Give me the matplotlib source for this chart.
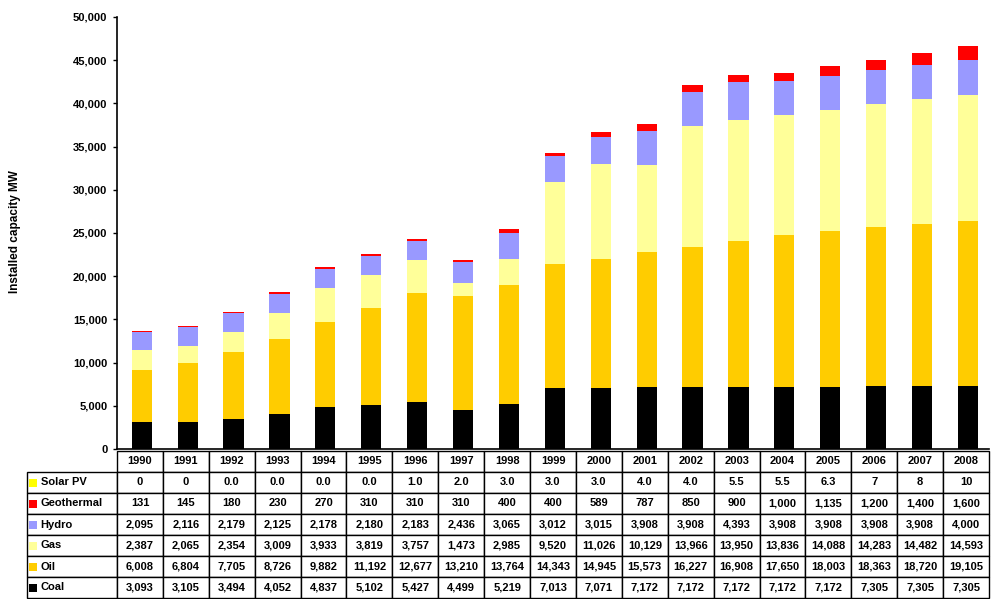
import matplotlib
matplotlib.use('Agg')
from matplotlib import pyplot as plt
from matplotlib.patches import Rectangle
import numpy as np

plt.rcParams['font.family'] = ['Liberation Sans', 'DejaVu Sans']

years = ['1990', '1991', '1992', '1993', '1994', '1995', '1996', '1997', '1998', '1999',
         '2000', '2001', '2002', '2003', '2004', '2005', '2006', '2007', '2008']
coal = [3093, 3105, 3494, 4052, 4837, 5102, 5427, 4499, 5219, 7013,
        7071, 7172, 7172, 7172, 7172, 7172, 7305, 7305, 7305]
oil = [6008, 6804, 7705, 8726, 9882, 11192, 12677, 13210, 13764, 14343,
       14945, 15573, 16227, 16908, 17650, 18003, 18363, 18720, 19105]
gas = [2387, 2065, 2354, 3009, 3933, 3819, 3757, 1473, 2985, 9520,
       11026, 10129, 13966, 13950, 13836, 14088, 14283, 14482, 14593]
hydro = [2095, 2116, 2179, 2125, 2178, 2180, 2183, 2436, 3065, 3012,
         3015, 3908, 3908, 4393, 3908, 3908, 3908, 3908, 4000]
geothermal = [131, 145, 180, 230, 270, 310, 310, 310, 400, 400,
              589, 787, 850, 900, 1000, 1135, 1200, 1400, 1600]
solar = [0, 0, 0.0, 0.0, 0.0, 0.0, 1.0, 2.0, 3.0, 3.0,
         3.0, 4.0, 4.0, 5.5, 5.5, 6.3, 7, 8, 10]
solar_txt = ['0', '0', '0.0', '0.0', '0.0', '0.0', '1.0', '2.0', '3.0', '3.0',
             '3.0', '4.0', '4.0', '5.5', '5.5', '6.3', '7', '8', '10']

series = [('Coal', coal, '#000000'), ('Oil', oil, '#FFCC00'), ('Gas', gas, '#FFFF99'),
          ('Hydro', hydro, '#9999FF'), ('Geothermal', geothermal, '#FF0000'),
          ('Solar PV', solar, '#FFFF00')]

ax_l, ax_w = 117, 872
fig = plt.figure(figsize=(9.92, 5.99), dpi=100)
ax = fig.add_axes([ax_l/992, 1 - 449/599, ax_w/992, 432/599])

x = np.arange(len(years))
bottom = np.zeros(len(years))
for name, vals, col in series:
    ax.bar(x + 0.04, vals, 0.44, bottom=bottom, color=col, label=name)
    bottom += np.array(vals, dtype=float)

ax.set_xlim(-0.5, len(years) - 0.5)
ax.set_ylim(0, 50000)
ax.set_yticks(np.arange(0, 50001, 5000))
ax.yaxis.set_major_formatter(matplotlib.ticker.FuncFormatter(lambda v, p: f'{int(v):,}'))
ax.tick_params(axis='y', labelsize=8, length=3, width=1, pad=4)
ax.set_xticks([])
ax.spines['top'].set_visible(False)
ax.spines['right'].set_visible(False)
ax.spines['left'].set_linewidth(1.2)
ax.spines['bottom'].set_linewidth(1.2)
for lbl in ax.get_yticklabels():
    lbl.set_fontweight('bold')
fig.text(15/992, 1 - 232/599, 'Installed capacity MW', rotation=90, fontsize=8.5,
         fontweight='bold', ha='center', va='center')

# table below the bars, top row first
rows = [('Solar PV', solar_txt, '#FFFF00'),
        ('Geothermal', [f'{v:,}' for v in geothermal], '#FF0000'),
        ('Hydro', [f'{v:,}' for v in hydro], '#9999FF'),
        ('Gas', [f'{v:,}' for v in gas], '#FFFF99'),
        ('Oil', [f'{v:,}' for v in oil], '#FFCC00'),
        ('Coal', [f'{v:,}' for v in coal], '#000000')]

lab_w = 90
cell_text = [[r[0]] + r[1] for r in rows]
tb = ax.table(cellText=cell_text, colLabels=[''] + years, cellLoc='center',
              colWidths=[lab_w] + [ax_w / len(years)] * len(years),
              bbox=[-lab_w / ax_w, (449 - 598) / 432, 1 + lab_w / ax_w, 147 / 432])
tb.auto_set_font_size(False)
tb.set_fontsize(8)
for (r, c), cell in tb.get_celld().items():
    cell.set_linewidth(1.0)
    cell.get_text().set_fontweight('bold')
    if c == 0:
        cell.get_text().set_ha('left')
        cell._loc = 'left'
        cell.PAD = 0.15
        if r == 0:
            cell.set_visible(False)

# colored keys in the row label column
row_h = 147 / 7
for i, (name, vals, col) in enumerate(rows):
    yc = 451 + row_h * (i + 1.5)
    ax.add_patch(Rectangle(((29 - ax_l) / ax_w, (449 - yc - 4) / 432), 8 / ax_w, 8 / 432,
                           transform=ax.transAxes, facecolor=col, edgecolor='none',
                           clip_on=False, zorder=5))

fig.savefig('out.png', dpi=100)
